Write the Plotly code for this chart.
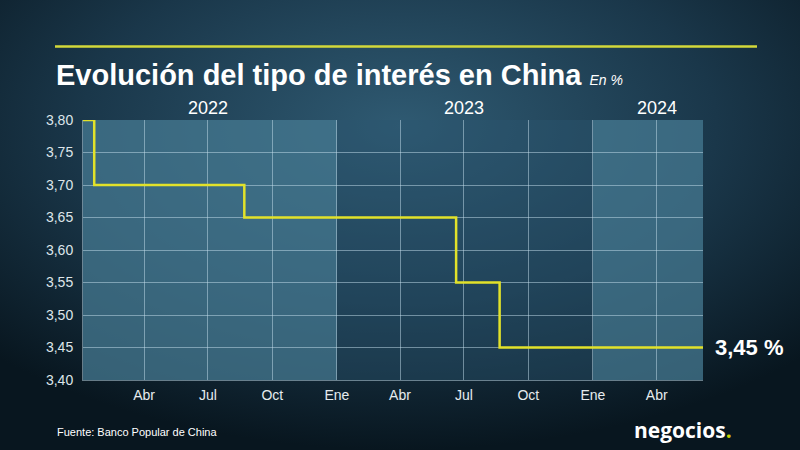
import base64

import plotly.graph_objects as go

# Tipo de interés preferencial (LPR a 1 año), en %
fechas = ["2022-01-04", "2022-01-20", "2022-08-22", "2023-06-20", "2023-08-21", "2024-06-06"]
tipos = [3.80, 3.70, 3.65, 3.55, 3.45, 3.45]

# Ejes
mes_ticks = ["2022-04-01", "2022-07-01", "2022-10-01", "2023-01-01", "2023-04-01",
             "2023-07-01", "2023-10-01", "2024-01-01", "2024-04-01"]
mes_labels = ["Abr", "Jul", "Oct", "Ene", "Abr", "Jul", "Oct", "Ene", "Abr"]
y_ticks = [3.40, 3.45, 3.50, 3.55, 3.60, 3.65, 3.70, 3.75, 3.80]

anios = ["2022", "2023", "2024"]
anio_pos = ["2022-07-01", "2023-07-01", "2024-04-01"]
anio_inicio = ["2022-01-04", "2023-01-01", "2024-01-01"]
anio_fin = ["2023-01-01", "2024-01-01", "2024-06-06"]

W, H = 800, 450
L, R, T, B = 83, 97, 120, 70
PW, PH = W - L - R, H - T - B


def px_x(x):
    return (x - L) / PW


def px_y(y):
    return (H - B - y) / PH


fondo_svg = (
    "<svg xmlns='http://www.w3.org/2000/svg' width='800' height='450'>"
    "<defs><radialGradient id='g' cx='0.5' cy='0.28' r='0.72'>"
    "<stop offset='0' stop-color='#2f5a72'/>"
    "<stop offset='0.55' stop-color='#1a374a'/>"
    "<stop offset='1' stop-color='#08161f'/>"
    "</radialGradient></defs>"
    "<rect width='800' height='450' fill='url(#g)'/></svg>"
)
fondo_src = "data:image/svg+xml;base64," + base64.b64encode(fondo_svg.encode()).decode()

AMARILLO = "#e2e22a"
GRID = "rgba(195,222,235,0.5)"

fig = go.Figure(
    go.Scatter(
        x=fechas, y=tipos, mode="lines", line_shape="hv",
        line=dict(color=AMARILLO, width=2.5), hoverinfo="skip",
    )
)

shapes = []
for i, (x0, x1) in enumerate(zip(anio_inicio, anio_fin)):
    color = "rgba(70,122,146,0.75)" if i != 1 else "rgba(44,86,112,0.42)"
    shapes.append(dict(type="rect", xref="x", yref="paper", x0=x0, x1=x1, y0=0, y1=1,
                       fillcolor=color, line_width=0, layer="below"))
# filete amarillo superior
shapes.append(dict(type="line", xref="paper", yref="paper", x0=px_x(55), x1=px_x(757),
                   y0=px_y(46.5), y1=px_y(46.5), line=dict(color="#d3d83a", width=2.5)))

annotations = [
    dict(text="<b>Evolución del tipo de interés en China</b> <i><span style='font-size:14px'>En %</span></i>",
         xref="paper", yref="paper", x=px_x(54), y=px_y(75), xanchor="left", yanchor="middle",
         showarrow=False, font=dict(size=29, color="white")),
    dict(text="<b>3,45 %</b>", xref="paper", yref="y", x=px_x(713), y=tipos[-1],
         xanchor="left", yanchor="middle", showarrow=False, font=dict(size=22, color="white")),
    dict(text="Fuente: Banco Popular de China", xref="paper", yref="paper", x=px_x(55), y=px_y(432),
         xanchor="left", yanchor="middle", showarrow=False, font=dict(size=11, color="white")),
    dict(text="<b>negocios<span style='color:#c8d400'>.</span></b>", xref="paper", yref="paper",
         x=px_x(683), y=px_y(430), xanchor="center", yanchor="middle", showarrow=False,
         font=dict(size=21, color="white", family="Open Sans")),
]
for a, xp in zip(anios, anio_pos):
    annotations.append(dict(text=a, xref="x", yref="paper", x=xp, y=px_y(108), xanchor="center",
                            yanchor="middle", showarrow=False, font=dict(size=18, color="white")))

fig.update_layout(
    width=W, height=H,
    margin=dict(l=L, r=R, t=T, b=B),
    paper_bgcolor="#132b3a",
    plot_bgcolor="rgba(0,0,0,0)",
    font=dict(family="Liberation Sans, Arial, sans-serif", color="#dde5ea", size=14),
    separators=",.",
    showlegend=False,
    shapes=shapes,
    annotations=annotations,
    images=[dict(source=fondo_src, xref="paper", yref="paper", x=-L / PW, y=1 + T / PH,
                 sizex=W / PW, sizey=H / PH, sizing="stretch", xanchor="left", yanchor="top",
                 layer="below")],
)
fig.update_xaxes(
    range=[fechas[0], fechas[-1]], tickvals=mes_ticks, ticktext=mes_labels,
    showgrid=True, gridcolor=GRID, gridwidth=1, zeroline=False,
    showline=True, linecolor=GRID, linewidth=1, ticks="", ticklabelstandoff=2,
    tickfont=dict(size=14, color="#e6ecef"),
)
fig.update_yaxes(
    range=[3.40, 3.80], tickvals=y_ticks, tickformat=".2f",
    showgrid=True, gridcolor=GRID, gridwidth=1, zeroline=False,
    showline=True, linecolor=GRID, linewidth=1, ticks="", ticklabelstandoff=6,
    tickfont=dict(size=14, color="#dde5ea"),
)

fig.write_html(
    "out.html",
    config={"displayModeBar": False},
    post_script="document.body.style.margin='0';document.body.style.overflow='hidden';",
)
